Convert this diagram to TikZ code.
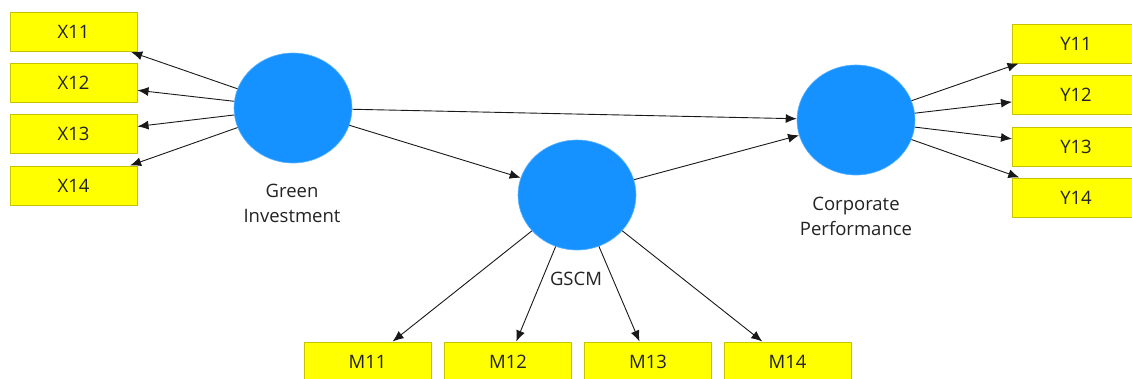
\documentclass[tikz,border=0pt]{standalone}
\usepackage{fontspec}
\setmainfont{Open Sans}
\usetikzlibrary{shapes.geometric,arrows.meta}
\definecolor{latentblue}{RGB}{21,146,255}
\definecolor{itemyellow}{RGB}{255,255,0}
\definecolor{itemedge}{RGB}{200,195,0}
\definecolor{inktext}{RGB}{35,35,35}
\tikzset{
  latent/.style={ellipse, fill=latentblue, draw=latentblue!70!white, line width=0.6pt,
                 minimum width=118pt, minimum height=110pt, inner sep=0pt},
  indicator/.style={rectangle, fill=itemyellow, draw=itemedge, line width=1pt,
                    minimum width=127pt, minimum height=39pt, inner sep=0pt,
                    text=inktext, font=\fontsize{18.5}{22}\selectfont},
  caption/.style={align=center, anchor=base, text=inktext, inner sep=0pt,
                  font=\fontsize{18.5}{25}\selectfont},
  path/.style={draw=black!90, line width=0.9pt, -{Latex[length=11pt,width=9pt]}}
}
\begin{document}
\begin{tikzpicture}[x=1pt,y=-1pt]
  \clip (0,0) rectangle (1132,378);
  \fill[white] (0,0) rectangle (1132,378);

  % latent constructs
  \node[latent] (gi) at (293,108) {};
  \node[latent] (gscm) at (577,195) {};
  \node[latent] (cp) at (856,120) {};

  % captions (base anchor sits on the last line)
  \node[caption] (gilab) at (292,222) {Green\\Investment};
  \node[caption] (gscmlab) at (576,285) {GSCM};
  \node[caption] (cplab) at (856,235) {Corporate\\Performance};

  % indicators of Green Investment
  \node[indicator] (x11) at (73.5,32) {X11};
  \node[indicator] (x12) at (73.5,83) {X12};
  \node[indicator] (x13) at (73.5,134) {X13};
  \node[indicator] (x14) at (73.5,185.5) {X14};

  % indicators of Corporate Performance
  \node[indicator] (y11) at (1076,43.5) {Y11};
  \node[indicator] (y12) at (1076,94.5) {Y12};
  \node[indicator] (y13) at (1076,146.5) {Y13};
  \node[indicator] (y14) at (1076,197.5) {Y14};

  % indicators of GSCM
  \node[indicator] (m11) at (367.5,361.5) {M11};
  \node[indicator] (m12) at (508,361.5) {M12};
  \node[indicator] (m13) at (648,361.5) {M13};
  \node[indicator] (m14) at (787.5,361.5) {M14};

  % outer loadings
  \foreach \t in {x11,x12,x13,x14} \draw[path] (gi) -- (\t);
  \foreach \t in {y11,y12,y13,y14} \draw[path] (cp) -- (\t);
  \foreach \t in {m11,m12,m13,m14} \draw[path] (gscm) -- (\t);

  % structural paths
  \draw[path] (gi) -- (cp);
  \draw[path] (gi) -- (gscm);
  \draw[path] (gscm) -- (cp);
\end{tikzpicture}
\end{document}
